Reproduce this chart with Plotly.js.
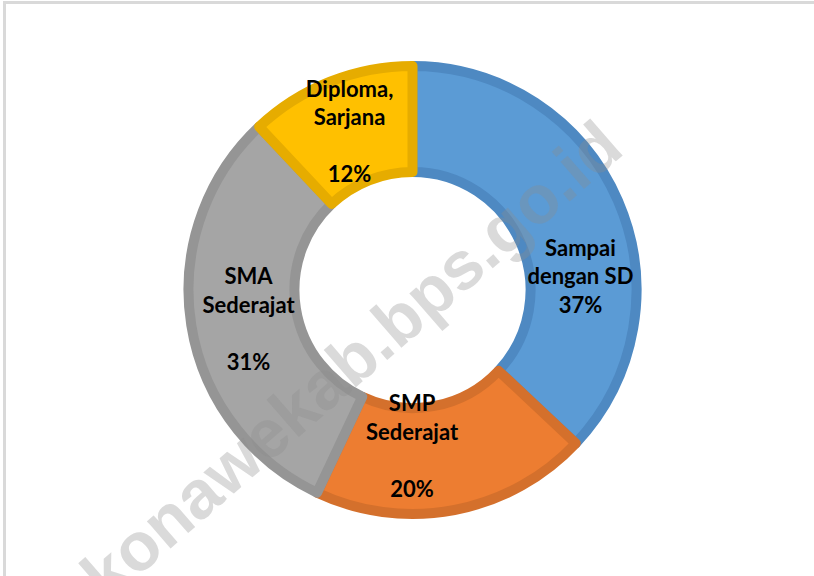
<!DOCTYPE html>
<html><head><meta charset="utf-8">
<script src="https://cdn.plot.ly/plotly-3.0.1.min.js"></script>
<style>
html,body{margin:0;padding:0;background:#fff;}
#chart{width:814px;height:576px;}
#frame{position:absolute;left:3px;top:1px;width:811px;height:575px;border-top:3px solid #d9d9d9;border-left:3px solid #d9d9d9;pointer-events:none;box-sizing:border-box;}
</style>
</head><body>
<div id="chart"></div><div id="frame"></div>
<script>
const categories = ["Sampai dengan SD", "SMP Sederajat", "SMA Sederajat", "Diploma, Sarjana"];
const values = [37, 20, 31, 12];
// label lines as shown on the chart ("" = empty line)
const labelLinesBefore = [[], [], ["", ""], []];
const labelLines = [["Sampai", "dengan SD"], ["SMP", "Sederajat", ""], ["SMA", "Sederajat", ""], ["Diploma,", "Sarjana", ""]];
const labelLinesAfter = [[""], [""], [], []];
const fillColors = ["#5B9BD5", "#ED7D31", "#A5A5A5", "#FFC000"];
const borderColors = ["#4E89C2", "#D4702C", "#959595", "#E6AC00"];
const watermark = "konawekab.bps.go.id";

const texts = values.map((v, i) =>
  labelLinesBefore[i].concat(labelLines[i], [v + "%"], labelLinesAfter[i])
    .map(l => l || "\u00a0").join("<br>"));

const trace = {
  type: "pie",
  labels: categories,
  values: values,
  text: texts,
  textinfo: "text",
  textposition: "inside",
  insidetextorientation: "horizontal",
  textfont: {family: "Lato, 'Open Sans', sans-serif", size: 22, color: "#000", weight: "bold"},
  hole: 0.527,
  sort: false,
  direction: "clockwise",
  rotation: 0,
  marker: {colors: fillColors, line: {color: borderColors, width: 10}},
  hoverinfo: "none",
  showlegend: false
};

const layout = {
  width: 814, height: 576,
  margin: {l: 11, r: 0, t: 66, b: 62},
  paper_bgcolor: "#ffffff",
  showlegend: false,
  uniformtext: {mode: "show", minsize: 22},
  annotations: [{
    text: watermark, xref: "paper", yref: "paper", x: 0.423, y: 0.344,
    xanchor: "center", yanchor: "middle",
    showarrow: false, textangle: -41,
    font: {family: "'Liberation Sans', Arial, sans-serif", size: 68, color: "rgba(140,140,140,0.32)", weight: "bold"}
  }]
};

Plotly.newPlot("chart", [trace], layout, {displayModeBar: false, staticPlot: true});
</script>
</body></html>
